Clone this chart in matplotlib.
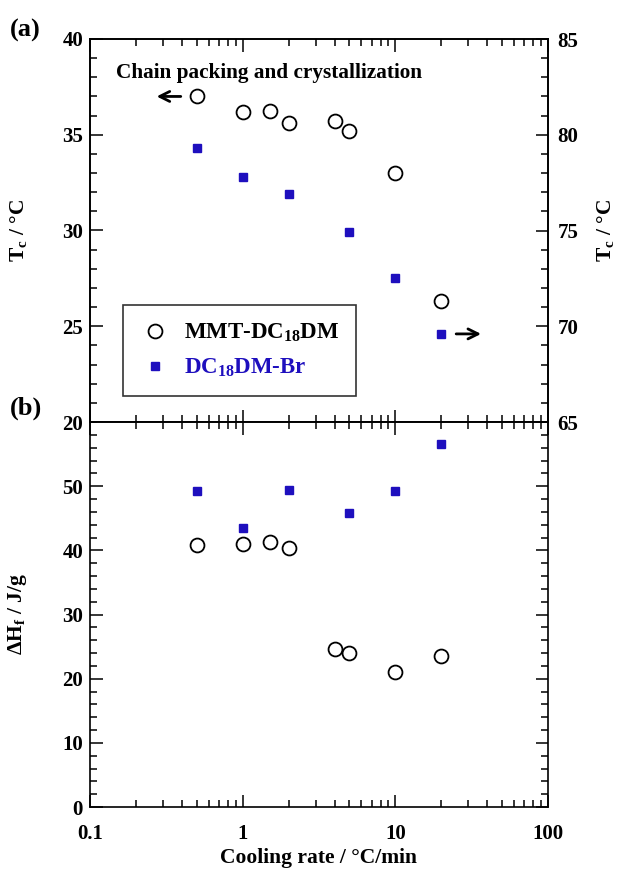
import matplotlib
matplotlib.use("Agg")
import matplotlib.pyplot as plt
from matplotlib.lines import Line2D
from matplotlib.ticker import MultipleLocator, LogLocator, NullFormatter, FixedLocator

plt.rcParams['font.family'] = ['Liberation Serif', 'DejaVu Serif']
plt.rcParams['font.weight'] = 'bold'
plt.rcParams['mathtext.fontset'] = 'custom'
plt.rcParams['mathtext.rm'] = 'Liberation Serif:bold'
plt.rcParams['mathtext.bf'] = 'Liberation Serif:bold'
plt.rcParams['mathtext.it'] = 'Liberation Serif:bold:italic'

# ---- data ----
rate_mmt = [0.5, 1, 1.5, 2, 4, 5, 10, 20]
tc_mmt = [37.0, 36.2, 36.25, 35.6, 35.7, 35.2, 33.0, 26.3]
dh_mmt = [40.8, 41.0, 41.3, 40.4, 24.7, 24.0, 21.0, 23.5]

rate_br = [0.5, 1, 2, 5, 10, 20]
tc_br = [79.3, 77.8, 76.9, 74.9, 72.5, 69.6]
dh_br = [49.3, 43.5, 49.4, 45.8, 49.2, 56.5]

xticks = [0.1, 1, 10, 100]
xticklabels = ['0.1', '1', '10', '100']

BLUE = '#1e0fbe'
W, H = 621, 872
fig = plt.figure(figsize=(W / 100, H / 100), dpi=100)

left = 90 / W
width = 458 / W
ax1 = fig.add_axes([left, (H - 422) / H, width, 383 / H])
ax2 = fig.add_axes([left, (H - 807) / H, width, 385 / H])
ax1r = ax1.twinx()

LS = 15

def ticks(ax, **kw):
    ax.tick_params(which='both', direction='in', labelsize=LS, width=1.1, **kw)
    ax.tick_params(which='major', length=9)
    ax.tick_params(which='minor', length=5)
    for s in ax.spines.values():
        s.set_linewidth(1.2)

for ax in (ax1, ax2):
    ax.set_xscale('log')
    ax.set_xlim(0.1, 100)
    ax.xaxis.set_major_locator(FixedLocator(xticks))
    ax.xaxis.set_minor_locator(LogLocator(base=10, subs=range(2, 10)))
    ax.xaxis.set_minor_formatter(NullFormatter())

# top panel
ax1.plot(rate_mmt, tc_mmt, 'o', mfc='white', mec='black', mew=1.3, ms=10, zorder=3)
ax1r.plot(rate_br, tc_br, 's', color=BLUE, ms=6, zorder=3)
ax1.set_ylim(20, 40)
ax1.yaxis.set_major_locator(MultipleLocator(5))
ax1.yaxis.set_minor_locator(MultipleLocator(1))
ax1r.set_ylim(65, 85)
ax1r.yaxis.set_major_locator(MultipleLocator(5))
ax1r.yaxis.set_minor_locator(MultipleLocator(1))
ticks(ax1, top=True, right=False)
ax1.tick_params(axis='y', pad=5)
ticks(ax1r)
ax1r.tick_params(axis='y', pad=7)
ax1.set_xticklabels([])
for t in ax1.get_yticklabels() + ax1r.get_yticklabels():
    t.set_fontweight('bold')
ax1.set_ylabel(r'T$_\mathrm{c}$ / °C', fontsize=15.5, fontweight='bold')
ax1.yaxis.set_label_coords(-0.133, 0.5)
ax1r.set_ylabel(r'T$_\mathrm{c}$ / °C', fontsize=15.5, fontweight='bold', rotation=90)
ax1r.yaxis.set_label_coords(1.103, 0.5)

ax1.text(0.148, 38.2, 'Chain packing and crystallization', fontsize=15.3,
         fontweight='bold', va='center', ha='left')
ax1.annotate('', xy=(0.262, 37.0), xytext=(0.41, 37.0),
             arrowprops=dict(arrowstyle='->', lw=2, color='black', mutation_scale=18))
ax1r.annotate('', xy=(38, 69.6), xytext=(24, 69.6),
              arrowprops=dict(arrowstyle='->', lw=2, color='black', mutation_scale=18))

handles = [Line2D([], [], ls='none', marker='o', mfc='white', mec='black', mew=1.3, ms=10),
           Line2D([], [], ls='none', marker='s', color=BLUE, ms=6)]
leg = ax1r.legend(handles, ['MMT-DC$_{18}$DM', 'DC$_{18}$DM-Br'], loc='center',
                  bbox_to_anchor=(0.3265, 0.1865), frameon=True, fancybox=False,
                  edgecolor='black', prop={'weight': 'bold', 'size': 16.5},
                  handletextpad=0.6, labelspacing=0.55, borderpad=0.75,
                  handlelength=1.3, borderaxespad=0)
leg.get_frame().set_linewidth(1.2)
leg.get_texts()[1].set_color(BLUE)

# bottom panel
ax2.plot(rate_br, dh_br, 's', color=BLUE, ms=6, zorder=3)
ax2.plot(rate_mmt, dh_mmt, 'o', mfc='white', mec='black', mew=1.3, ms=10, zorder=3)
ax2.set_ylim(0, 60)
ax2.set_yticks([0, 10, 20, 30, 40, 50])
ax2.yaxis.set_minor_locator(MultipleLocator(2))
ticks(ax2, top=True, right=True)
ax2.tick_params(axis='y', pad=5)
ax2.tick_params(axis='x', pad=12)
ax2.set_xticklabels(xticklabels)
for t in ax2.get_xticklabels() + ax2.get_yticklabels():
    t.set_fontweight('bold')
ax2.set_ylabel(r'ΔH$_\mathrm{f}$ / J/g', fontsize=15.5, fontweight='bold')
ax2.yaxis.set_label_coords(-0.133, 0.5)
ax2.set_xlabel('Cooling rate / °C/min', fontsize=15.5, fontweight='bold', labelpad=3)

fig.text(10 / W, 1 - 30 / H, '(a)', fontsize=19, fontweight='bold', ha='left', va='center')
fig.text(10 / W, 1 - 408 / H, '(b)', fontsize=19, fontweight='bold', ha='left', va='center')

fig.savefig('out.png', dpi=100)
